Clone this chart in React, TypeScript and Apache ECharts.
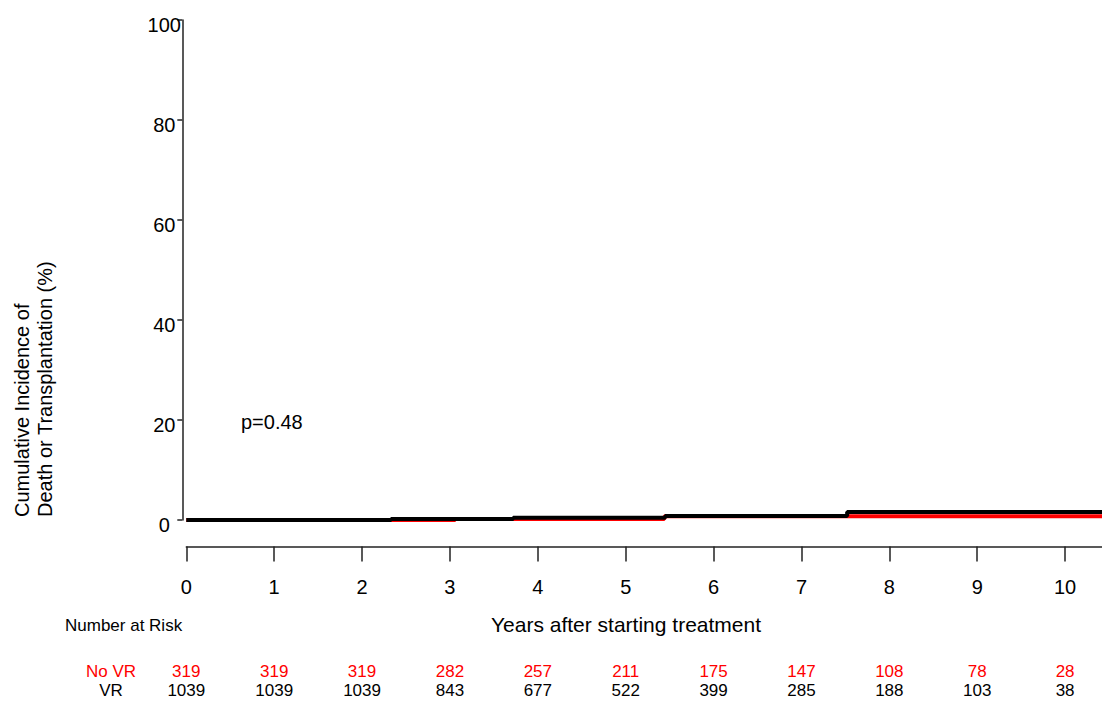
import React, { useEffect, useRef } from 'react';
import * as echarts from 'echarts';

// Follow-up years shown on the axis and in the risk table
const years = [0, 1, 2, 3, 4, 5, 6, 7, 8, 9, 10];
const xMax = 10.42;
const yTicksMax = 100;
const yTickStep = 20;

// Number at risk per year
const noVrAtRisk = [319, 319, 319, 282, 257, 211, 175, 147, 108, 78, 28];
const vrAtRisk = [1039, 1039, 1039, 843, 677, 522, 399, 285, 188, 103, 38];

// Cumulative incidence step curves: [years, %]
const noVrCurve = [
  [0, 0],
  [3.06, 0.2],
  [5.44, 0.75],
  [10.42, 0.75],
];
const vrCurve = [
  [0, 0],
  [2.33, 0.2],
  [3.72, 0.45],
  [5.45, 0.8],
  [7.52, 1.6],
  [10.42, 1.6],
];

const pValueText = 'p=0.48';
const FONT = '"Liberation Sans", Arial, Helvetica, sans-serif';
const RED = '#ff0000';
const BLACK = '#000000';

export default function App() {
  const ref = useRef<HTMLDivElement>(null);

  useEffect(() => {
    if (!ref.current) return;
    const chart = echarts.init(ref.current, undefined, { renderer: 'svg' });

    const riskAxis = (offset: number, values: number[], color: string) => ({
      type: 'value',
      min: 0,
      max: xMax,
      position: 'bottom',
      offset,
      axisLine: { show: false, onZero: false },
      axisTick: { show: false },
      splitLine: { show: false },
      axisLabel: {
        customValues: years,
        margin: 0,
        verticalAlign: 'middle',
        color,
        fontSize: 17,
        fontFamily: FONT,
        formatter: (v: number) => {
          const i = years.indexOf(Math.round(v));
          return i >= 0 ? String(values[i]) : '';
        },
      },
    });

    chart.setOption({
      animation: false,
      backgroundColor: '#ffffff',
      grid: { left: 186.3, right: 0, top: 20, bottom: 184 },
      xAxis: [
        {
          type: 'value',
          min: 0,
          max: xMax,
          position: 'bottom',
          offset: 26.5,
          axisLine: { show: true, onZero: false, lineStyle: { color: '#222', width: 1.5 } },
          axisTick: {
            show: true,
            customValues: years,
            length: 15,
            lineStyle: { color: '#222', width: 1.5 },
          },
          splitLine: { show: false },
          axisLabel: {
            customValues: years,
            margin: 30,
            color: BLACK,
            fontSize: 20,
            fontFamily: FONT,
            formatter: (v: number) => String(Math.round(v)),
          },
        },
        riskAxis(151, noVrAtRisk, RED),
        riskAxis(170.5, vrAtRisk, BLACK),
      ],
      yAxis: {
        type: 'value',
        min: 0,
        max: yTicksMax,
        interval: yTickStep,
        offset: 4,
        axisLine: { show: true, onZero: false, lineStyle: { color: '#222', width: 1.5 } },
        axisTick: { show: true, length: 5, lineStyle: { color: '#222', width: 1.5 } },
        splitLine: { show: false },
        axisLabel: {
          align: 'center',
          verticalAlign: 'top',
          lineHeight: 10,
          margin: 18,
          color: BLACK,
          fontSize: 20,
          fontFamily: FONT,
        },
      },
      series: [
        {
          name: 'No VR',
          type: 'line',
          step: 'end',
          xAxisIndex: 0,
          symbol: 'none',
          clip: false,
          lineStyle: { color: RED, width: 4 },
          data: noVrCurve,
        },
        {
          name: 'VR',
          type: 'line',
          step: 'end',
          xAxisIndex: 0,
          symbol: 'none',
          clip: false,
          lineStyle: { color: BLACK, width: 4 },
          data: vrCurve,
        },
      ],
      graphic: [
        {
          type: 'text',
          x: 33.5,
          y: 517,
          rotation: Math.PI / 2,
          style: {
            text: 'Cumulative Incidence of\nDeath or Transplantation (%)',
            fill: BLACK,
            fontSize: 20,
            fontFamily: FONT,
            lineHeight: 23,
            align: 'left',
            verticalAlign: 'middle',
          },
        },
        {
          type: 'text',
          x: 241,
          y: 422,
          style: {
            text: pValueText,
            fill: BLACK,
            fontSize: 20,
            fontFamily: FONT,
            align: 'left',
            verticalAlign: 'middle',
          },
        },
        {
          type: 'text',
          x: 626,
          y: 624,
          style: {
            text: 'Years after starting treatment',
            fill: BLACK,
            fontSize: 21,
            fontFamily: FONT,
            align: 'center',
            verticalAlign: 'middle',
          },
        },
        {
          type: 'text',
          x: 65,
          y: 625,
          style: {
            text: 'Number at Risk',
            fill: BLACK,
            fontSize: 17,
            fontFamily: FONT,
            align: 'left',
            verticalAlign: 'middle',
          },
        },
        {
          type: 'text',
          x: 111,
          y: 671,
          style: {
            text: 'No VR',
            fill: RED,
            fontSize: 17,
            fontFamily: FONT,
            align: 'center',
            verticalAlign: 'middle',
          },
        },
        {
          type: 'text',
          x: 111,
          y: 690.5,
          style: {
            text: 'VR',
            fill: BLACK,
            fontSize: 17,
            fontFamily: FONT,
            align: 'center',
            verticalAlign: 'middle',
          },
        },
      ],
    });

    return () => chart.dispose();
  }, []);

  return (
    <div
      ref={ref}
      style={{ position: 'fixed', left: 0, top: 0, width: 1102, height: 704 }}
    />
  );
}
